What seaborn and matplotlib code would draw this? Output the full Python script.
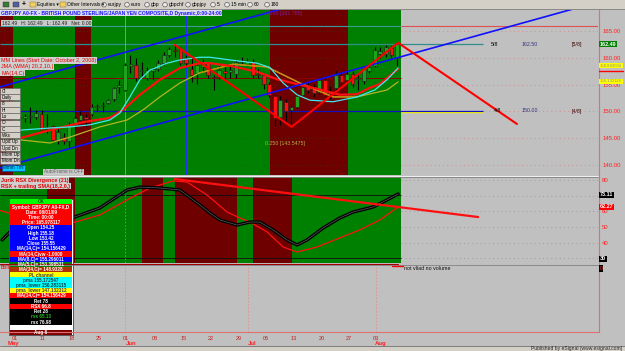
import matplotlib
matplotlib.use("Agg")
import matplotlib.pyplot as plt
from matplotlib.patches import Rectangle, Circle
import numpy as np
import pandas as pd
import seaborn as sns

# ---------------- data ----------------
bar_open = [144.1, 145.6, 148.0, 149.0, 148.7, 149.0, 148.9, 149.6, 147.0, 147.2,
            144.4, 145.3, 144.4, 147.5, 148.4, 149.0, 149.6, 150.8, 151.0, 151.5,
            152.4, 154.5, 154.0, 158.5, 158.7, 157.5, 156.2, 157.5, 158.0, 159.0,
            160.5, 161.5, 161.7, 160.0, 158.0, 157.2, 158.3, 159.0, 156.5, 156.4,
            157.5, 157.3, 157.0, 159.2, 158.9, 159.3, 157.0, 156.8, 155.2, 152.8,
            149.0, 151.8, 150.3, 150.9, 153.1, 154.9, 154.6, 153.7, 155.8, 153.6,
            154.3, 156.8, 155.8, 157.0, 156.0, 155.6, 157.6, 158.4, 160.8, 160.8,
            161.8, 160.0]
bar_high = [146.5, 148.6, 149.3, 150.0, 149.6, 150.9, 150.3, 150.2, 149.6, 147.5,
            146.9, 146.0, 148.0, 149.2, 150.0, 149.6, 151.3, 151.4, 151.7, 152.3,
            154.5, 155.9, 159.0, 160.5, 160.0, 159.3, 158.3, 158.3, 159.5, 161.0,
            162.0, 162.4, 162.0, 160.5, 160.0, 159.0, 159.8, 159.3, 156.8, 158.4,
            158.3, 158.5, 159.5, 160.2, 160.0, 159.8, 158.0, 157.2, 155.5, 153.0,
            152.8, 152.3, 151.2, 153.2, 155.0, 155.5, 155.2, 156.3, 156.3, 154.8,
            157.5, 157.3, 157.5, 157.6, 157.0, 158.3, 158.6, 162.0, 162.1, 162.4,
            162.2, 163.0]
bar_low = [143.8, 145.3, 147.5, 147.2, 148.0, 147.8, 148.5, 146.3, 145.9, 144.3,
           144.0, 144.0, 143.4, 147.0, 147.8, 147.2, 149.2, 150.0, 149.9, 151.3,
           152.0, 153.4, 153.8, 157.1, 155.7, 156.5, 155.9, 155.9, 157.5, 158.7,
           160.2, 160.2, 158.7, 158.2, 155.5, 155.2, 157.6, 156.3, 154.0, 156.0,
           156.0, 156.3, 156.2, 158.6, 158.6, 156.3, 156.3, 154.2, 152.6, 147.3,
           147.5, 148.3, 147.1, 150.5, 152.8, 153.5, 152.6, 153.2, 152.6, 152.4,
           153.8, 155.0, 155.3, 154.5, 154.0, 155.2, 157.2, 158.2, 159.9, 160.2,
           160.0, 158.5]
bar_close = [146.2, 148.1, 148.4, 148.7, 149.1, 149.2, 149.7, 146.6, 146.8, 144.7,
             146.2, 144.4, 147.5, 148.7, 149.3, 148.5, 150.8, 150.9, 151.2, 152.1,
             154.3, 154.9, 158.7, 158.9, 156.2, 157.8, 157.7, 157.9, 159.0, 160.5,
             161.7, 161.3, 159.0, 159.0, 156.8, 158.6, 159.0, 156.8, 156.3, 157.8,
             157.2, 157.8, 159.2, 159.4, 159.4, 156.8, 156.8, 155.2, 153.1, 148.7,
             152.1, 150.0, 150.8, 152.8, 154.6, 154.0, 153.5, 155.8, 153.1, 153.3,
             156.8, 155.5, 157.0, 155.2, 156.3, 158.0, 158.3, 161.5, 161.2, 162.0,
             160.5, 162.49]

cyan_k = [3.1, 8.5, 12.1, 15.7, 19.3, 21.1, 22.9, 24.7, 26.5, 29.6, 31.9, 35.5,
          37.3, 40.9, 45.8, 48.1, 50.5, 53.0, 55.3, 59.5, 63.8, 67.0, 69.2, 71.2]
cyan_p = [146.5, 146.9, 147.1, 147.5, 148.4, 149.7, 152.7, 155.9, 157.7, 159.0, 159.6, 160.1,
          160.1, 159.6, 159.0, 158.2, 155.3, 153.1, 152.1, 151.8, 152.7, 154.0, 155.9, 158.1]
redma_k = [3.1, 8.5, 14.5, 19.3, 21.7, 24.7, 28.3, 31.9, 35.5, 37.3, 40.9, 45.8,
           49.4, 53.0, 56.6, 60.7, 63.8, 66.1, 67.9, 71.2]
redma_p = [145.0, 146.5, 148.0, 148.8, 150.3, 153.1, 155.9, 158.1, 159.0, 159.0, 158.5, 157.4,
           156.0, 155.1, 154.2, 153.1, 153.2, 154.4, 155.1, 157.9]
olive_k = [3.1, 8.5, 12.1, 17.5, 22.4, 25.3, 28.3, 31.9, 35.5, 41.5, 47.6, 53.5,
           59.5, 63.8, 69.2, 71.2]
olive_p = [144.7, 144.1, 145.2, 147.1, 148.4, 150.3, 152.7, 155.3, 157.2, 158.8, 158.3, 155.3,
           152.7, 152.7, 154.0, 155.5]

zigzag_k = [31.0, 52.0, 71.2]
zigzag_p = [162.4, 147.1, 162.8]
proj_k = [71.2, 92.6]
proj_p = [162.8, 147.65]
channel_k = [-0.5, 107.2]
channel_upper = [154.55, 185.5]
channel_lower = [139.44, 170.4]

rsx_k = [-0.1, 1.3, 3.1, 6.0, 9.0, 12.5, 17.5, 22.4, 24.7, 28.3, 31.9, 35.5, 37.3, 39.1,
         42.2, 44.5, 46.3, 48.7, 51.2, 53.0, 54.8, 57.7, 60.7, 63.1, 66.7, 69.2, 71.2]
rsx_v = [41.8, 46.9, 50.0, 52.0, 53.5, 55.8, 62.2, 73.6, 75.5, 74.9, 73.6, 64.1, 59.0, 54.5,
         51.3, 53.2, 53.2, 48.2, 41.8, 38.6, 41.8, 49.4, 55.8, 59.6, 62.8, 67.3, 71.1]
sig_k = [-0.5, 3.0, 6.0, 9.0, 12.5, 17.5, 22.4, 26.5, 30.7, 33.2, 36.8, 40.4, 42.7, 44.5,
         47.6, 50.5, 53.0, 56.6, 60.7, 64.3, 67.9, 71.2]
sig_v = [60.6, 57.0, 53.5, 52.0, 52.6, 57.7, 67.3, 74.9, 79.4, 78.7, 70.4, 59.6, 55.8, 53.2,
         46.9, 37.3, 34.1, 37.3, 43.1, 48.2, 54.5, 62.8]
rsx_trend_k = [31.0, 85.6]
rsx_trend_v = [80.6, 56.4]

price_red_start = [-0.5, 13.0, 48.1]
price_red_end = [1.85, 15.9, 62.2]
rsx_red_start = [8.0, 25.1, 31.0, 45.1]
rsx_red_end = [13.0, 28.9, 42.2, 52.1]

price_ticks = [140, 145, 150, 155, 160, 165]
rsx_ticks = [40, 50, 60, 80]
date_tick_k = [2.21, 7.26, 12.48, 17.34, 22.2, 27.42, 32.64, 37.5, 42.55, 47.41, 52.45, 57.49, 62.35, 67.2]
date_tick_labels = ['01', '11', '18', '25', '01', '08', '15', '22', '29', '06', '13', '20', '27', '03']
month_k = [22.0, 44.2, 67.2]
month_labels = ['May', 'Jun', 'Jul', 'Aug']

# ---------------- styling ----------------
sns.set_style("white")
plt.rcParams['font.family'] = ['Liberation Sans', 'DejaVu Sans']

GRAY = '#c0c0c0'
GREEN = '#008000'
DRED = '#6e0000'
W, H = 625, 351
fig = plt.figure(figsize=(W / 100, H / 100), dpi=100)
fig.patch.set_facecolor(GRAY)


def add_px_axes(x0, y0, x1, y1):
    return fig.add_axes([x0 / W, 1 - y1 / H, (x1 - x0) / W, (y1 - y0) / H])


XLIM = (-0.486, 107.19)
DATA_END = 71.65
ax_p = add_px_axes(0, 10, 598, 175)
ax_r = add_px_axes(0, 177, 598, 263)
ax_v = add_px_axes(0, 265, 598, 332)
for ax in (ax_p, ax_r, ax_v):
    ax.set_facecolor(GRAY)
    ax.set_xlim(*XLIM)
    for s in ax.spines.values():
        s.set_visible(False)
    ax.grid(False)

# ---- price panel ----
ax_p.set_ylim(138.13, 168.92)
ax_p.axvspan(XLIM[0], DATA_END, color=GREEN, lw=0, zorder=0)
for s, e in zip(price_red_start, price_red_end):
    ax_p.axvspan(s, e, color=DRED, lw=0, zorder=0.5)
for v in price_ticks:
    ax_p.hlines(v, DATA_END, XLIM[1], colors='#d88080', linestyles=(0, (1, 4)), lw=0.6, zorder=1)
    ax_p.hlines(v, XLIM[0], DATA_END, colors='#1a5a1a', linestyles=(0, (1, 4)), lw=0.5, zorder=1)
ax_p.hlines(165.93, XLIM[0], DATA_END, colors='#3a9a9a', lw=0.8, zorder=1.5)
ax_p.hlines(165.93, DATA_END, XLIM[1], colors='#e05050', lw=0.8, zorder=1.5)
ax_p.hlines(162.5, XLIM[0], 86.5, colors='#2f8f8f', lw=0.9, zorder=1.5)
ax_p.hlines(156.3, XLIM[0], DATA_END, colors='#8a0000', lw=0.7, zorder=1.5)
ax_p.hlines(149.82, DATA_END, 86.5, colors='#ffff00', lw=1.0, zorder=1.5)
ax_p.hlines(150.0, XLIM[0], 86.5, colors='#1010c0', lw=0.9, zorder=1.6)
ax_p.axvline(22.0, color='#40b0b0', lw=0.7, zorder=1.5)
ax_p.axvline(33.0, color='#2030ff', lw=0.7, zorder=1.5)

k = np.arange(len(bar_open))
o = np.array(bar_open); c = np.array(bar_close)
up = c >= o
cols = np.where(up, '#1fa31f', '#ff1010')
body = np.maximum(np.abs(c - o), 0.15)
ax_p.vlines(k, bar_low, bar_high, colors='black', lw=0.8, zorder=3)
ax_p.bar(k, body, bottom=np.minimum(o, c), width=0.68, color=cols,
         edgecolor='#202020', linewidth=0.4, zorder=3.2)

sns.lineplot(x=channel_k, y=channel_upper, ax=ax_p, color='#1010ff', lw=1.2, zorder=4.5)
sns.lineplot(x=channel_k, y=channel_lower, ax=ax_p, color='#1010ff', lw=1.2, zorder=4.5)
sns.lineplot(x=olive_k, y=olive_p, ax=ax_p, color='#b4b424', lw=0.9, zorder=4)
sns.lineplot(x=olive_k[8:14], y=olive_p[8:14], ax=ax_p, color='#c88a10', lw=0.9, zorder=4.1)
sns.lineplot(x=redma_k, y=redma_p, ax=ax_p, color='#ff1010', lw=1.6, zorder=4.2)
sns.lineplot(x=cyan_k, y=cyan_p, ax=ax_p, color='#40e8f0', lw=0.9, zorder=4.3)
sns.lineplot(x=zigzag_k, y=zigzag_p, ax=ax_p, color='#ff0000', lw=1.5, zorder=5)
sns.lineplot(x=proj_k, y=proj_p, ax=ax_p, color='#ff0000', lw=1.5, zorder=5)
ax_p.set_xlim(*XLIM)
ax_p.set_ylim(138.13, 168.92)
ax_p.set_xlabel(''); ax_p.set_ylabel('')
ax_p.set_xticks([])
ax_p.yaxis.tick_right()
ax_p.set_yticks(price_ticks)
ax_p.set_yticklabels([f"{v:.2f}" for v in price_ticks])
ax_p.tick_params(axis='y', length=0, pad=3, labelsize=4.3, labelcolor='#ff2020')

# ---- RSX panel ----
RY = (27.1, 81.9)
ax_r.set_ylim(*RY)
ax_r.axvspan(XLIM[0], DATA_END, color=GREEN, lw=0, zorder=0)
for s, e in zip(rsx_red_start, rsx_red_end):
    ax_r.axvspan(s, e, color=DRED, lw=0, zorder=0.5)
for v in [30, 40, 50, 60, 70, 80]:
    ax_r.hlines(v, DATA_END, XLIM[1], colors='#909090', linestyles=(0, (1, 4)), lw=0.6, zorder=1)
ax_r.hlines([70.4, 30.3], XLIM[0], DATA_END, colors='#101010', lw=0.6, zorder=1.5)
ax_r.axvline(22.0, color='#50a0a0', lw=0.6, ls=(0, (2, 2)), zorder=1.5)
sns.lineplot(x=rsx_trend_k, y=rsx_trend_v, ax=ax_r, color='#ff1010', lw=1.6, zorder=5)
sns.lineplot(x=sig_k, y=sig_v, ax=ax_r, color='#ff1010', lw=0.9, zorder=4)
sns.lineplot(x=rsx_k, y=rsx_v, ax=ax_r, color='#000000', lw=2.4, zorder=4.5)
sns.lineplot(x=rsx_k, y=rsx_v, ax=ax_r, color='#5a5a5a', lw=0.5, zorder=4.6)
ax_r.set_xlim(*XLIM); ax_r.set_ylim(*RY)
ax_r.set_xlabel(''); ax_r.set_ylabel('')
ax_r.set_xticks([])
ax_r.yaxis.tick_right()
ax_r.set_yticks(rsx_ticks)
ax_r.set_yticklabels([str(v) for v in rsx_ticks])
ax_r.tick_params(axis='y', length=0, pad=3, labelsize=4.3, labelcolor='#ff2020')

# ---- volume panel / date axis ----
ax_v.set_ylim(0, 1)
ax_v.set_yticks([])
for mk in month_k:
    ax_v.axvline(mk, color='#e09090', lw=0.6, ls=(0, (2, 2)))
ax_v.set_xticks(date_tick_k)
ax_v.set_xticklabels(date_tick_labels)
ax_v.tick_params(axis='x', length=2, width=0.5, color='#ff6060', labelsize=4.0,
                 labelcolor='#c02020', pad=1.2)

# ---------------- overlay (screen furniture) ----------------
ov = fig.add_axes([0, 0, 1, 1], zorder=20)
ov.set_xlim(0, W); ov.set_ylim(H, 0)
ov.axis('off')
ov.patch.set_alpha(0)


def txt(x, y, s, size=4.2, color='black', ha='left', bg=None, weight='normal', pad=0.12):
    kw = {}
    if bg is not None:
        kw['bbox'] = dict(boxstyle=f'square,pad={pad}', fc=bg, ec='none')
    ov.text(x, y, s, fontsize=size, color=color, ha=ha, va='center', fontweight=weight, **kw)


# right axis line + bottom line
ov.plot([598.5, 598.5], [10, 332], color='#e07070', lw=0.8)
ov.plot([0, 598.5], [332.3, 332.3], color='#e07070', lw=0.8)
# panel separators
ov.plot([0, 598], [175.6, 175.6], color='#f0f0f0', lw=0.8)
ov.plot([0, 598], [176.6, 176.6], color='#808080', lw=0.6)
ov.plot([0, 398], [264.0, 264.0], color='#a00000', lw=0.8)
ov.plot([0, 598], [265.0, 265.0], color='#808080', lw=0.6)

# toolbar
ov.add_patch(Rectangle((0, 0), W, 9.3, fc='#d4d0c8', ec='none'))
ov.plot([0, W], [9.4, 9.4], color='#808080', lw=0.6)
ov.add_patch(Rectangle((3, 2), 6, 5, fc='#3a7a3a', ec='#303030', lw=0.3))
ov.add_patch(Rectangle((13, 2), 6, 5, fc='#5060a0', ec='#303030', lw=0.3))
txt(22, 4.8, '+', size=5, weight='bold')
for fx, label in [(30, 'Equities ▾'), (60, 'Other Intervals ▾')]:
    ov.add_patch(Rectangle((fx, 2.3), 5.5, 4.5, fc='#f0d060', ec='#806020', lw=0.3))
    txt(fx + 7, 4.8, label, size=3.6)
for cx, label in [(104, 'eurjpy'), (127, 'euro'), (147, 'gbp'), (165, 'gbpchf'),
                  (188, 'gbpjpy'), (213, '5'), (227, '15 min'), (250, '60'), (267, '180')]:
    ov.add_patch(Circle((cx, 4.7), 2.3, fc='#e8e8e8', ec='#404040', lw=0.4))
    txt(cx + 4, 4.8, label, size=3.6)

# title / info lines
txt(1, 13.3, 'GBPJPY A0-FX - BRITISH POUND STERLING/JAPAN YEN COMPOSITE,D Dynamic,0:00-24:00',
    size=3.6, color='#1818ff', bg='#dcdcec', weight='bold')
txt(265, 13.3, '0.000 [161.765]', size=3.8, color='#8020a0')
txt(2, 23.2, '162.49   H: 162.49   L: 162.49   Net: 0.00', size=3.5, color='#202020', bg='#c8c8c8')
txt(1, 60.5, 'MM Lines (Start Date: October 2, 2008)', size=3.9, color='#e00000', bg='#d0d0d0')
txt(1, 66.8, 'JMA (WMA) 20,2,10,|', size=3.9, color='#e00000', bg='#d0d0d0')
txt(1, 73.0, 'MA(14,C)', size=3.9, color='#e00000', bg='#d0d0d0')
txt(265, 143.0, '0.250 [143.5475]', size=3.8, color='#b0b050')
txt(44, 171.8, 'AutoFrame is OFF', size=3.4, color='#606060', bg='#c8c8c8')

# left buttons
buttons = ['Cl', 'Daily', '8', 'Hi', 'Lo', 'O', 'C', 'Wks', 'Upd Up', 'Upd Dn', 'Mom Up', 'Mom Dn']
for i, b in enumerate(buttons):
    y0 = 88 + i * 6.35
    ov.add_patch(Rectangle((0, y0), 19.5, 6.0, fc='#d4d0c8', ec='#606060', lw=0.4, zorder=1))
    txt(2, y0 + 3.1, b, size=3.3)
ov.add_patch(Rectangle((1.5, 164.5), 23, 6.0, fc='#00c8ff', ec='#2040a0', lw=0.5, zorder=1))
txt(3, 167.6, 'Mmm Tml', size=3.3, color='#002050')

# Gann labels in the empty right area
txt(491, 44.3, '5/8', size=3.8)
txt(522, 44.3, '162.50', size=3.8, color='#303080')
txt(572, 44.3, '[5/8]', size=3.8, color='#400000')
txt(494, 111.0, '4/8', size=3.8)
txt(522, 111.0, '150.00', size=3.8, color='#303080')
txt(572, 111.0, '[4/8]', size=3.8, color='#400000')

# price tags
txt(600, 44.3, '162.49', size=3.9, color='white', bg='#008000', weight='bold')
txt(600, 65.8, '158.882504', size=3.1, color='#909090', bg='#ffff00')
ov.plot([599, 623], [71.0, 71.0], color='#ff0000', lw=1.0)
txt(600, 81.5, '156.133116', size=3.1, color='#909090', bg='#ffff00')

# RSX labels + tags
txt(1, 180.2, 'Jurik RSX Divergence (21)', size=3.9, color='#e00000', bg='#d0d0d0', weight='bold')
txt(1, 186.3, 'RSX + trailing SMA(18,2,0,)', size=3.9, color='#e00000', bg='#d0d0d0', weight='bold')
txt(600, 194.7, '73.11', size=3.9, color='white', bg='#000000', weight='bold')
txt(600, 206.7, '62.27', size=3.9, color='white', bg='#ff0000', weight='bold')
txt(600, 259.0, '30', size=3.9, color='white', bg='#000000', weight='bold')
txt(600, 268.5, '0', size=3.6, color='#ff4040', bg='#000000')

# volume panel texts
txt(1, 267.5, 'Boll', size=3.8, color='#e00000')
ov.plot([392, 403], [266.2, 266.2], color='#ff0000', lw=1.0)
txt(404, 268.0, 'not vliad no volume', size=3.8, color='#101010')

# month labels
for mx, ml in zip([8, 126, 248, 375], month_labels):
    txt(mx, 343.3, ml, size=4.3, color='#ff2020', weight='bold')

# data window popup
rows = [('OK', '#00ff00', '#006000'),
        ('Symbol: GBPJPY A0-FX,D', '#ff0000', 'white'),
        ('Date: 08/01/09', '#ff0000', 'white'),
        ('Time: 00:00', '#ff0000', 'white'),
        ('Price: 165.978117', '#ff0000', 'white'),
        ('Open 154.25', '#0000ff', 'white'),
        ('High 155.18', '#0000ff', 'white'),
        ('Low 153.42', '#0000ff', 'white'),
        ('Close 155.55', '#0000ff', 'white'),
        ('MA(14,C)= 154.156429', '#0000ff', 'white'),
        ('MA(14,C)vw -1.0000', '#ff0000', 'white'),
        ('MA(8,C)= 155.296011', '#0000ff', 'white'),
        ('MA(5,C)= 153.398531', '#008000', 'white'),
        ('MA(34,C)= 148.9328', '#b03000', 'white'),
        ('PL channel', '#ffff00', '#404040'),
        ('pma 155.172547', '#00ffff', '#204040'),
        ('pma_lower 150.283115', '#00ffff', '#004040'),
        ('pma_lower 147.132312', '#ffff00', '#404040'),
        ('MA(14,C)= 154.156429', '#ff0000', 'white'),
        ('Ret 78', '#000000', 'white'),
        ('RSX 66.8', '#ff0000', 'white'),
        ('Ret 28', '#000000', 'white'),
        ('rsx 65.13', '#000000', '#20c020'),
        ('rsx 76.98', '#000000', 'white'),
        ('', '#ffffff', 'black'),
        ('Aug 8', '#800000', 'white')]
py0, rh = 199.0, 5.23
ov.add_patch(Rectangle((9, py0 - 0.5), 63.5, rh * len(rows) + 1.0, fc='#ffffff', ec='#404040', lw=0.6))
for i, (t, bg, fg) in enumerate(rows):
    yy = py0 + i * rh
    ov.add_patch(Rectangle((10, yy), 61.5, rh, fc=bg, ec='none'))
    ov.text(41, yy + rh / 2 + 0.2, t, fontsize=3.3, color=fg, ha='center', va='center', fontweight='bold')

# status bar
ov.add_patch(Rectangle((0, 345.6), W, 5.4, fc='#d4d0c8', ec='none'))
ov.plot([0, W], [345.6, 345.6], color='#707070', lw=0.6)
txt(622, 348.4, 'Published by eSignal (www.esignal.com)', size=3.6, ha='right', color='#202020')

fig.savefig('out.png', dpi=100, facecolor=fig.get_facecolor())
